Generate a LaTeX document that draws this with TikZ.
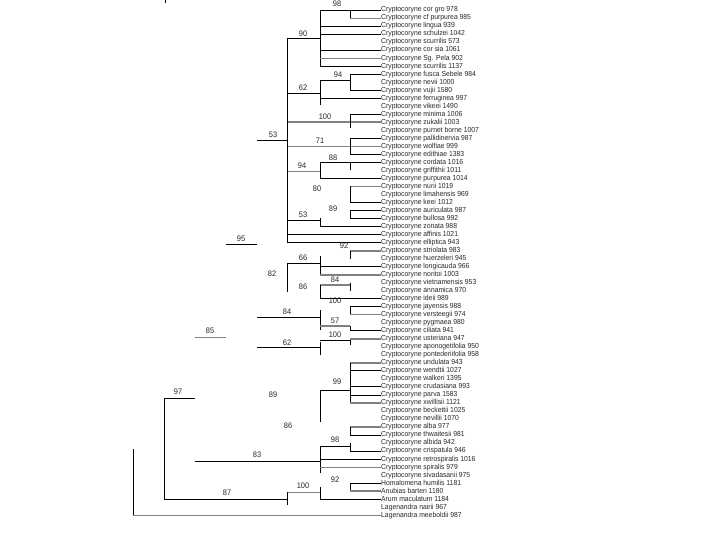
\documentclass[tikz,border=0pt]{standalone}
\usepackage{fontspec}
\setmainfont[FakeStretch=0.93]{Liberation Sans}
\newcommand\leafline[3]{\draw[#1] (#2,0 |- l#3.west) -- (l#3.west);}
\begin{document}
\begin{tikzpicture}[x=1pt,y=-1pt,
  bl/.style={black, line width=0.9pt},
  gt/.style={gray, line width=0.9pt},
  gk/.style={gray, line width=1.8pt},
  leaf/.style={anchor=west, inner sep=0pt, font=\fontsize{7.3}{8}\selectfont, text=black!85},
  bs/.style={inner sep=0pt, font=\fontsize{8}{8}\selectfont, text=black!85}]
\useasboundingbox (0,0) rectangle (720,540);
\foreach \t [count=\i] in {
Cryptocoryne cor gro 978,
Cryptocoryne cf purpurea 985,
Cryptocoryne lingua 939,
Cryptocoryne schulzei 1042,
Cryptocoryne scurrilis 573,
Cryptocoryne cor sia 1061,
Cryptocoryne Sg. Pela 902,
Cryptocoryne scurrilis 1137,
Cryptocoryne fusca Sebele 984,
Cryptocoryne nevii 1000,
Cryptocoryne vujii 1580,
Cryptocoryne ferruginea 997,
Cryptocoryne vikeei 1490,
Cryptocoryne minima 1006,
Cryptocoryne zukalii 1003,
Cryptocoryne purnet borne 1007,
Cryptocoryne pallidinervia 987,
Cryptocoryne wolfiae 999,
Cryptocoryne edithiae 1383,
Cryptocoryne cordata 1016,
Cryptocoryne griffithii 1011,
Cryptocoryne purpurea 1014,
Cryptocoryne nurii 1019,
Cryptocoryne limahensis 969,
Cryptocoryne keei 1012,
Cryptocoryne auriculata 987,
Cryptocoryne bullosa 992,
Cryptocoryne zonata 988,
Cryptocoryne affinis 1021,
Cryptocoryne elliptica 943,
Cryptocoryne striolata 983,
Cryptocoryne huerzeleri 945,
Cryptocoryne longicauda 966,
Cryptocoryne noritoi 1003,
Cryptocoryne vietnamensis 953,
Cryptocoryne annamica 970,
Cryptocoryne ideii 989,
Cryptocoryne jayensis 988,
Cryptocoryne versteegii 974,
Cryptocoryne pygmaea 980,
Cryptocoryne ciliata 941,
Cryptocoryne usteriana 947,
Cryptocoryne aponogetifolia 950,
Cryptocoryne pontederiifolia 958,
Cryptocoryne undulata 943,
Cryptocoryne wendtii 1027,
Cryptocoryne walkeri 1395,
Cryptocoryne crudasiana 993,
Cryptocoryne parva 1583,
Cryptocoryne xwillisii 1121,
Cryptocoryne beckettii 1025,
Cryptocoryne nevillii 1070,
Cryptocoryne alba 977,
Cryptocoryne thwaitesii 981,
Cryptocoryne albida 942,
Cryptocoryne crispatula 946,
Cryptocoryne retrospiralis 1016,
Cryptocoryne spiralis 979,
Cryptocoryne sivadasanii 975,
Homalomena humilis 1181,
Anubias barteri 1180,
Arum maculatum 1184,
Lagenandra nairii 967,
Lagenandra meeboldii 987}
  \node[leaf] (l\i) at (381,{10+(\i-1)*8.02}) {\t};

% tick at top
\draw[bl] (165,0) -- (165,3);

% clade 90 / 98
\leafline{bl}{320}{1}
\leafline{gt}{350}{2}
\draw[bl] (350,10) -- (350,18);
\draw[bl] (320,10) -- (320,66.1);
\draw[bl] (287,38) -- (320,38);
\leafline{bl}{320}{3}
\leafline{bl}{320}{4}
\leafline{bl}{320}{6}
\leafline{gt}{320}{7}
\leafline{bl}{320}{8}
% 94 / 62
\draw[bl] (320,80) -- (350,80);
\draw[bl] (350,74.2) -- (350,90.2);
\leafline{bl}{350}{9}
\leafline{bl}{350}{11}
\draw[bl] (320,80) -- (320,105);
\draw[bl] (287,93) -- (320,93);
\leafline{bl}{320}{12}
% 100
\leafline{gk}{287}{15}
\draw[bl] (350,114.3) -- (350,128);
\leafline{bl}{350}{14}
% 53 root
\draw[bl] (257,140) -- (287,140);
% 71
\leafline{gt}{287}{18}
\draw[bl] (350,138.3) -- (350,154.4);
\leafline{bl}{350}{17}
\leafline{bl}{350}{19}
% 94 / 88
\draw[gt] (287,171) -- (320,171);
\draw[bl] (320,162.4) -- (320,178.4);
\leafline{bl}{320}{20}
\draw[bl] (350,162.4) -- (350,170.4);
\leafline{bl}{320}{22}
% 80
\leafline{gk}{350}{23}
\draw[bl] (350,186.4) -- (350,202.5);
\leafline{bl}{350}{25}
% 89
\leafline{bl}{350}{26}
\draw[bl] (350,210.5) -- (350,218.5);
\leafline{bl}{350}{27}
% 53
\draw[bl] (287,220) -- (320,220);
\draw[bl] (320,218.5) -- (320,226.5);
\leafline{bl}{320}{28}
\leafline{bl}{287}{29}
\leafline{bl}{287}{30}
\draw[bl] (287,38) -- (287,242.6);
% 95
\draw[bl] (226,244) -- (257,244);
% 92 / 66
\leafline{gk}{350}{31}
\draw[bl] (350,250.6) -- (350,258.6);
\draw[bl] (287,263) -- (320,263);
\draw[bl] (320,256) -- (320,274.7);
\leafline{bl}{320}{33}
\leafline{gk}{320}{34}
\draw[bl] (287,263) -- (287,292);
% 84 / 86
\draw[gk] (320,285) -- (350,285);
\draw[bl] (350,282.7) -- (350,290.7);
\draw[bl] (320,285) -- (320,298.7);
\leafline{bl}{320}{37}
% 100
\draw[bl] (350,306.7) -- (350,314.8);
\leafline{bl}{350}{38}
\leafline{gt}{350}{39}
% 84
\draw[bl] (257,317) -- (320,317);
\draw[bl] (320,310) -- (320,330);
% 57
\draw[gk] (320,326) -- (350,326);
\draw[bl] (350,326) -- (350,330.8);
\leafline{bl}{350}{41}
% 100
\draw[bl] (320,340) -- (350,340);
\draw[bl] (350,338.8) -- (350,345);
\leafline{gk}{350}{42}
% 62
\draw[bl] (257,347) -- (320,347);
\draw[bl] (320,342) -- (320,355);
% 85
\draw[gt] (195,337) -- (226,337);
% 99 clade
\leafline{gk}{350}{45}
\draw[bl] (350,362.9) -- (350,403);
\leafline{bl}{350}{46}
\leafline{bl}{350}{48}
\leafline{bl}{350}{49}
\leafline{gk}{350}{50}
\draw[bl] (320,390) -- (350,390);
\draw[bl] (320,390) -- (320,422);
% alba
\leafline{gk}{350}{53}
\draw[bl] (350,427) -- (350,435.1);
\leafline{bl}{350}{54}
% 98
\draw[bl] (320,446) -- (350,446);
\draw[bl] (350,443.1) -- (350,451.1);
\leafline{bl}{350}{56}
\draw[bl] (320,446) -- (320,473);
% 83
\draw[bl] (195,461) -- (320,461);
\leafline{bl}{320}{57}
\leafline{gt}{320}{58}
% 92
\draw[bl] (350,483.2) -- (350,491.2);
\leafline{bl}{350}{60}
\leafline{gk}{350}{61}
% 100
\draw[gt] (287,492) -- (320,492);
\draw[bl] (320,487) -- (320,499.2);
\leafline{bl}{320}{62}
\draw[bl] (287,492) -- (287,505);
% 87
\draw[bl] (164,499) -- (287,499);
% 97
\draw[bl] (164,398) -- (195,398);
\draw[bl] (164,398) -- (164,499);
% root
\draw[bl] (133,449) -- (133,515.3);
\leafline{gt}{133}{64}

% bootstrap labels
\node[bs] (b1) at (337,4) {98};
\node[bs] (b2) at (303,34) {90};
\node[bs] (b3) at (338,75) {94};
\node[bs] (b4) at (303,88) {62};
\node[bs] (b5) at (325,117) {100};
\node[bs] (b6) at (273,135) {53};
\node[bs] (b7) at (320,141) {71};
\node[bs] (b8) at (333,158) {88};
\node[bs] (b9) at (302,166) {94};
\node[bs] (b10) at (317,189) {80};
\node[bs] (b11) at (333,209) {89};
\node[bs] (b12) at (303,215) {53};
\node[bs] (b13) at (241,239) {95};
\node[bs] (b14) at (344,246) {92};
\node[bs] (b15) at (303,258) {66};
\node[bs] (b16) at (272,274) {82};
\node[bs] (b17) at (335,280) {84};
\node[bs] (b18) at (303,287) {86};
\node[bs] (b19) at (335,301) {100};
\node[bs] (b20) at (287,312) {84};
\node[bs] (b21) at (335,321) {57};
\node[bs] (b22) at (335,335) {100};
\node[bs] (b23) at (287,343) {62};
\node[bs] (b24) at (210,331) {85};
\node[bs] (b25) at (337,382) {99};
\node[bs] (b26) at (273,395) {89};
\node[bs] (b27) at (288,426) {86};
\node[bs] (b28) at (335,440) {98};
\node[bs] (b29) at (257,455) {83};
\node[bs] (b30) at (335,480) {92};
\node[bs] (b31) at (303,486) {100};
\node[bs] (b32) at (227,493) {87};
\node[bs] (b33) at (178,392) {97};
\end{tikzpicture}
\end{document}
